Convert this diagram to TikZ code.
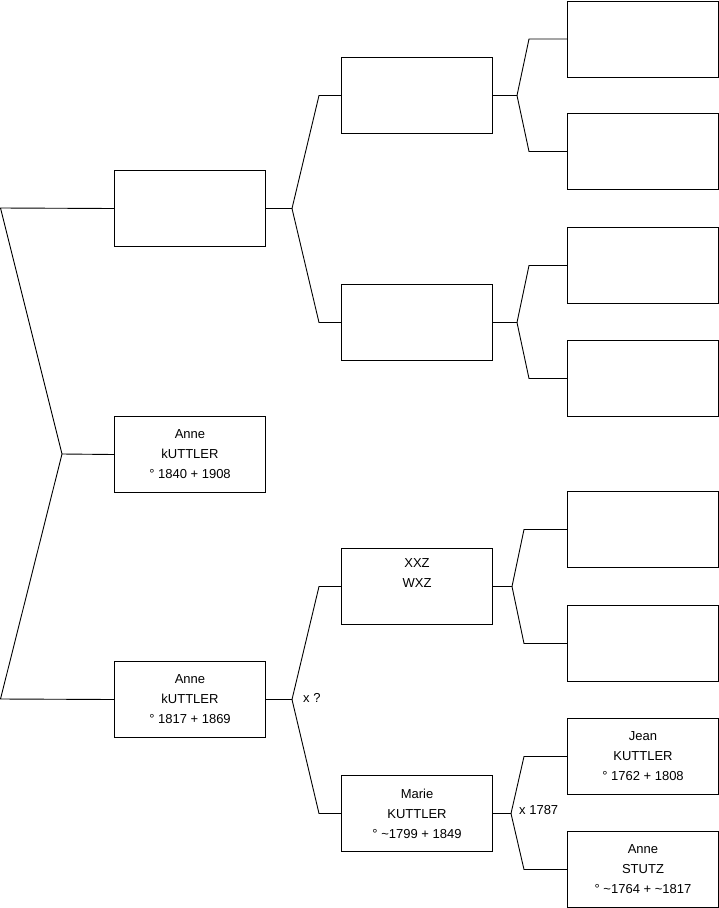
\documentclass[tikz,border=0pt]{standalone}
\usepackage{fontspec}
\setmainfont{Liberation Sans}
\usetikzlibrary{calc}
\begin{document}
\begin{tikzpicture}[x=1pt,y=-1pt,
  person/.style={draw=black, line width=1pt, rectangle, minimum width=151pt, minimum height=76pt, inner sep=0pt, anchor=north west, align=center, font=\fontsize{13}{20}\selectfont},
  conn/.style={draw=black, line width=0.9pt, line join=miter},
  lab/.style={anchor=west, inner sep=0pt, font=\fontsize{13}{14}\selectfont}]
\useasboundingbox (0,0) rectangle (719,908);
% level 1
\node[person] (A) at (114,170) {};
\node[person] (B) at (114,416) {Anne\\kUTTLER\\° 1840 + 1908};
\node[person] (C) at (114,661) {Anne\\kUTTLER\\° 1817 + 1869};
% level 2
\node[person] (Aa) at (341,57) {};
\node[person] (Ab) at (341,284) {};
\node[person] (Ca) at (341,548) {XXZ\\WXZ\\\strut};
\node[person] (Cb) at (341,775) {Marie\\KUTTLER\\° \textasciitilde1799 + 1849};
% level 3
\node[person] (Aa1) at (567,0.5) {};
\node[person] (Aa2) at (567,113) {};
\node[person] (Ab1) at (567,227) {};
\node[person] (Ab2) at (567,340) {};
\node[person] (Ca1) at (567,491) {};
\node[person] (Ca2) at (567,605) {};
\node[person] (Cb1) at (567,718) {Jean\\KUTTLER\\° 1762 + 1808};
\node[person] (Cb2) at (567,831) {Anne\\STUTZ\\° \textasciitilde1764 + \textasciitilde1817};
% root fork
\coordinate (r0a) at (0.5,208);
\coordinate (r0c) at (0.5,699);
\coordinate (f0) at (62,454);
\draw[conn] (A.west) -- (r0a) -- (f0) -- (B.west);
\draw[conn] (f0) -- (r0c) -- (C.west);
% level 1 -> 2
\coordinate (fA) at ($(A.east)+(26,0)$);
\draw[conn] (A.east) -- (fA) -- ($(Aa.west)+(-22,0)$) -- (Aa.west);
\draw[conn] (fA) -- ($(Ab.west)+(-22,0)$) -- (Ab.west);
\coordinate (fC) at ($(C.east)+(26,0)$);
\draw[conn] (C.east) -- (fC) -- ($(Ca.west)+(-22,0)$) -- (Ca.west);
\draw[conn] (fC) -- ($(Cb.west)+(-22,0)$) -- (Cb.west);
% level 2 -> 3
\coordinate (fAa) at ($(Aa.east)+(24,0)$);
\draw[conn] (Aa.east) -- (fAa) -- ($(Aa1.west)+(-38,0)$) -- (Aa1.west);
\draw[conn] (fAa) -- ($(Aa2.west)+(-38,0)$) -- (Aa2.west);
\coordinate (fAb) at ($(Ab.east)+(24,0)$);
\draw[conn] (Ab.east) -- (fAb) -- ($(Ab1.west)+(-38,0)$) -- (Ab1.west);
\draw[conn] (fAb) -- ($(Ab2.west)+(-38,0)$) -- (Ab2.west);
\coordinate (fCa) at ($(Ca.east)+(19,0)$);
\draw[conn] (Ca.east) -- (fCa) -- ($(Ca1.west)+(-43,0)$) -- (Ca1.west);
\draw[conn] (fCa) -- ($(Ca2.west)+(-43,0)$) -- (Ca2.west);
\coordinate (fCb) at ($(Cb.east)+(18,0)$);
\draw[conn] (Cb.east) -- (fCb) -- ($(Cb1.west)+(-43,0)$) -- (Cb1.west);
\draw[conn] (fCb) -- ($(Cb2.west)+(-43,0)$) -- (Cb2.west);
% marriage labels
\node[lab] (mC) at (303,698) {x ?};
\node[lab] (mCb) at (519,810) {x 1787};
\end{tikzpicture}
\end{document}
